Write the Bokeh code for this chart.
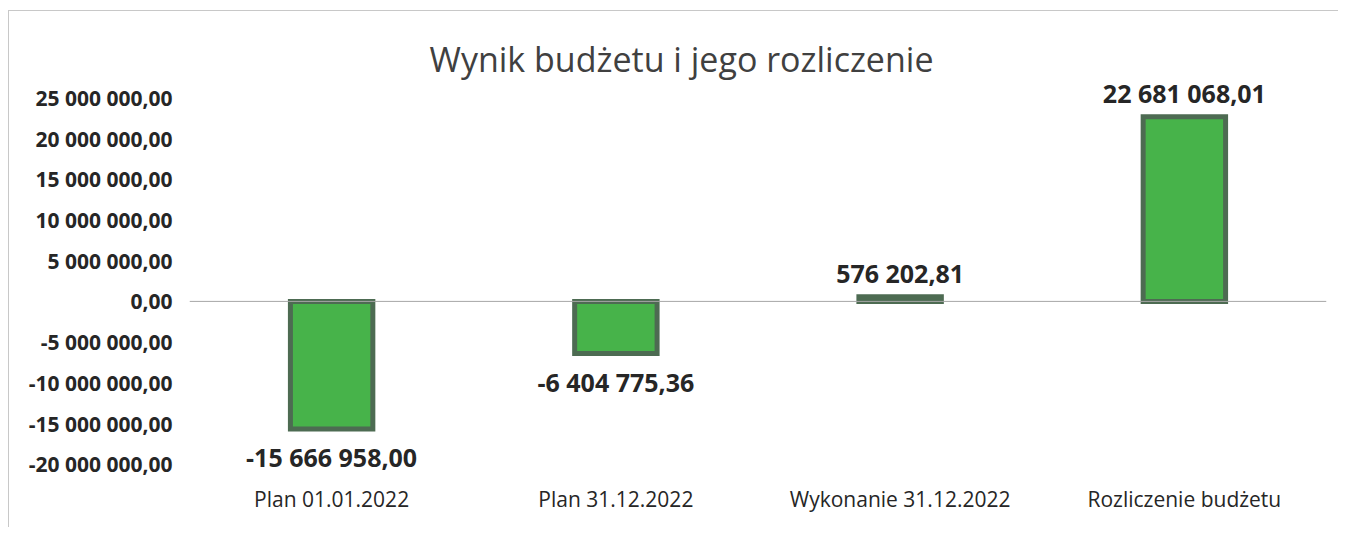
from bokeh.plotting import figure
from bokeh.models import ColumnDataSource, Range1d, FactorRange, FixedTicker, Span, LabelSet
from bokeh.core.properties import value
from bokeh.embed import file_html
from bokeh.resources import INLINE

categories = ["Plan 01.01.2022", "Plan 31.12.2022", "Wykonanie 31.12.2022", "Rozliczenie budżetu"]
values = [-15666958.00, -6404775.36, 576202.81, 22681068.01]
value_labels = ["-15 666 958,00", "-6 404 775,36", "576 202,81", "22 681 068,01"]
y_ticks = [-20000000, -15000000, -10000000, -5000000, 0, 5000000, 10000000, 15000000, 20000000, 25000000]
y_tick_labels = ["-20 000 000,00", "-15 000 000,00", "-10 000 000,00", "-5 000 000,00", "0,00",
                 "5 000 000,00", "10 000 000,00", "15 000 000,00", "20 000 000,00", "25 000 000,00"]
title_text = "Wynik budżetu i jego rozliczenie"

FONT = "Open Sans"

p = figure(x_range=FactorRange(*categories), y_range=Range1d(-21500000, 27000000),
           width=1330, height=517, output_backend="svg", toolbar_location=None,
           min_border_left=180, min_border_right=13, min_border_top=70, min_border_bottom=52)

p.title.text = title_text
p.title.align = "left"
p.title.offset = 240
p.title.standoff = 0
p.title.text_font = FONT
p.title.text_font_size = "34px"
p.title.text_font_style = "normal"
p.title.text_color = "#404040"

p.outline_line_color = None
p.xgrid.visible = False
p.ygrid.visible = False
p.background_fill_color = "white"
p.border_fill_color = "white"

p.yaxis.ticker = FixedTicker(ticks=y_ticks)
p.yaxis.major_label_overrides = {t: l for t, l in zip(y_ticks, y_tick_labels)}
p.yaxis.axis_line_color = None
p.yaxis.major_tick_line_color = None
p.yaxis.minor_tick_line_color = None
p.yaxis.major_label_standoff = 11
p.yaxis.major_label_text_font = FONT
p.yaxis.major_label_text_font_size = "21px"
p.yaxis.major_label_text_font_style = "bold"
p.yaxis.major_label_text_color = "#262626"

p.xaxis.axis_line_color = None
p.xaxis.major_tick_line_color = None
p.xaxis.minor_tick_line_color = None
p.xaxis.major_label_standoff = 2
p.xaxis.major_label_text_font = FONT
p.xaxis.major_label_text_font_size = "21px"
p.xaxis.major_label_text_color = "#262626"

p.add_layout(Span(location=0, dimension="width", line_color="#a6a6a6", line_width=1))

src = ColumnDataSource(dict(
    x=categories, y=values, label=value_labels,
    yoff=[-28 if v < 0 else 24 for v in values],
))

p.vbar(x="x", top="y", bottom=0, width=0.29, source=src,
       fill_color="#47b34a", line_color="#4d6b52", line_width=5, line_join="miter")

labels = LabelSet(x="x", y="y", text="label", y_offset="yoff", source=src,
                  text_align="center", text_baseline="middle",
                  text_font=value(FONT), text_font_size="25px", text_font_style="bold",
                  text_color="#262626")
p.add_layout(labels)

p.styles = {"border-top": "1px solid #c8c8c8", "border-left": "1px solid #c8c8c8",
            "margin-left": "8px", "margin-top": "10px"}

open("out.html", "w").write(file_html(p, INLINE))
